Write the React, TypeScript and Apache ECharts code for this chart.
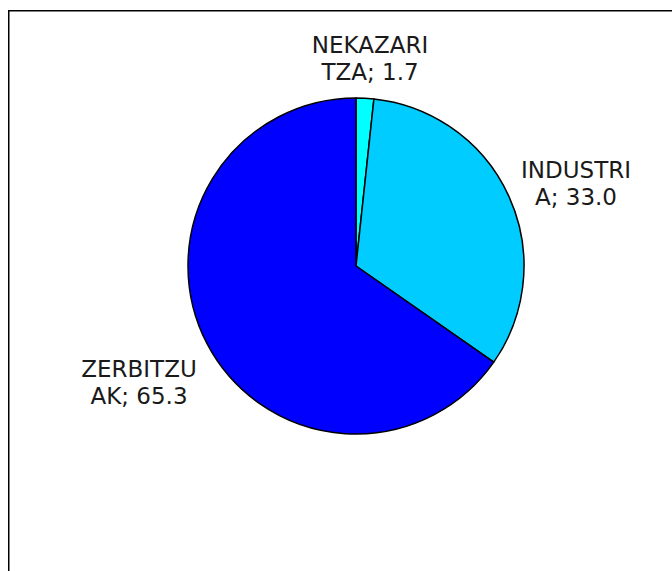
import React, { useEffect, useRef } from "react";
import * as echarts from "echarts";

const categories = ["NEKAZARITZA", "INDUSTRIA", "ZERBITZUAK"];
const values = [1.7, 33.0, 65.3];
const labelLines = [
  ["NEKAZARI", "TZA"],
  ["INDUSTRI", "A"],
  ["ZERBITZU", "AK"],
];
const colors = ["#00FFFF", "#00CCFF", "#0000FF"];
const labelPos = [
  [370, 58],
  [576, 183],
  [139, 382],
];

export default function App() {
  const ref = useRef<HTMLDivElement>(null);
  useEffect(() => {
    if (!ref.current) return;
    const chart = echarts.init(ref.current, null, { renderer: "svg" });
    chart.setOption({
      animation: false,
      backgroundColor: "#ffffff",
      graphic: [
        {
          type: "rect",
          shape: { x: 8.75, y: 10.75, width: 700, height: 600 },
          style: { fill: "none", stroke: "#000", lineWidth: 1.5 },
          silent: true,
        },
      ],
      series: [
        {
          type: "pie",
          center: [356, 266],
          radius: [0, 168],
          startAngle: 90,
          clockwise: true,
          data: categories.map((c, i) => ({
            name: c,
            value: values[i],
            itemStyle: { color: colors[i] },
          })),
          itemStyle: { borderColor: "#000", borderWidth: 1.5 },
          emphasis: { disabled: true },
          labelLine: { show: false },
          label: {
            show: true,
            position: "outside",
            alignTo: "none",
            overflow: "none",
            width: 200,
            fontFamily: "DejaVu Sans",
            fontSize: 23,
            lineHeight: 27,
            color: "#1a1a1a",
            align: "center",
            formatter: (p: any) =>
              labelLines[p.dataIndex][0] +
              "\n" +
              labelLines[p.dataIndex][1] +
              "; " +
              values[p.dataIndex].toFixed(1),
          },
          labelLayout: (p: any) => ({
            x: labelPos[p.dataIndex][0],
            y: labelPos[p.dataIndex][1],
            align: "center",
            verticalAlign: "middle",
          }),
        },
      ],
    });
    return () => chart.dispose();
  }, []);
  return (
    <div
      ref={ref}
      style={{ position: "fixed", left: 0, top: 0, width: 672, height: 571 }}
    />
  );
}
